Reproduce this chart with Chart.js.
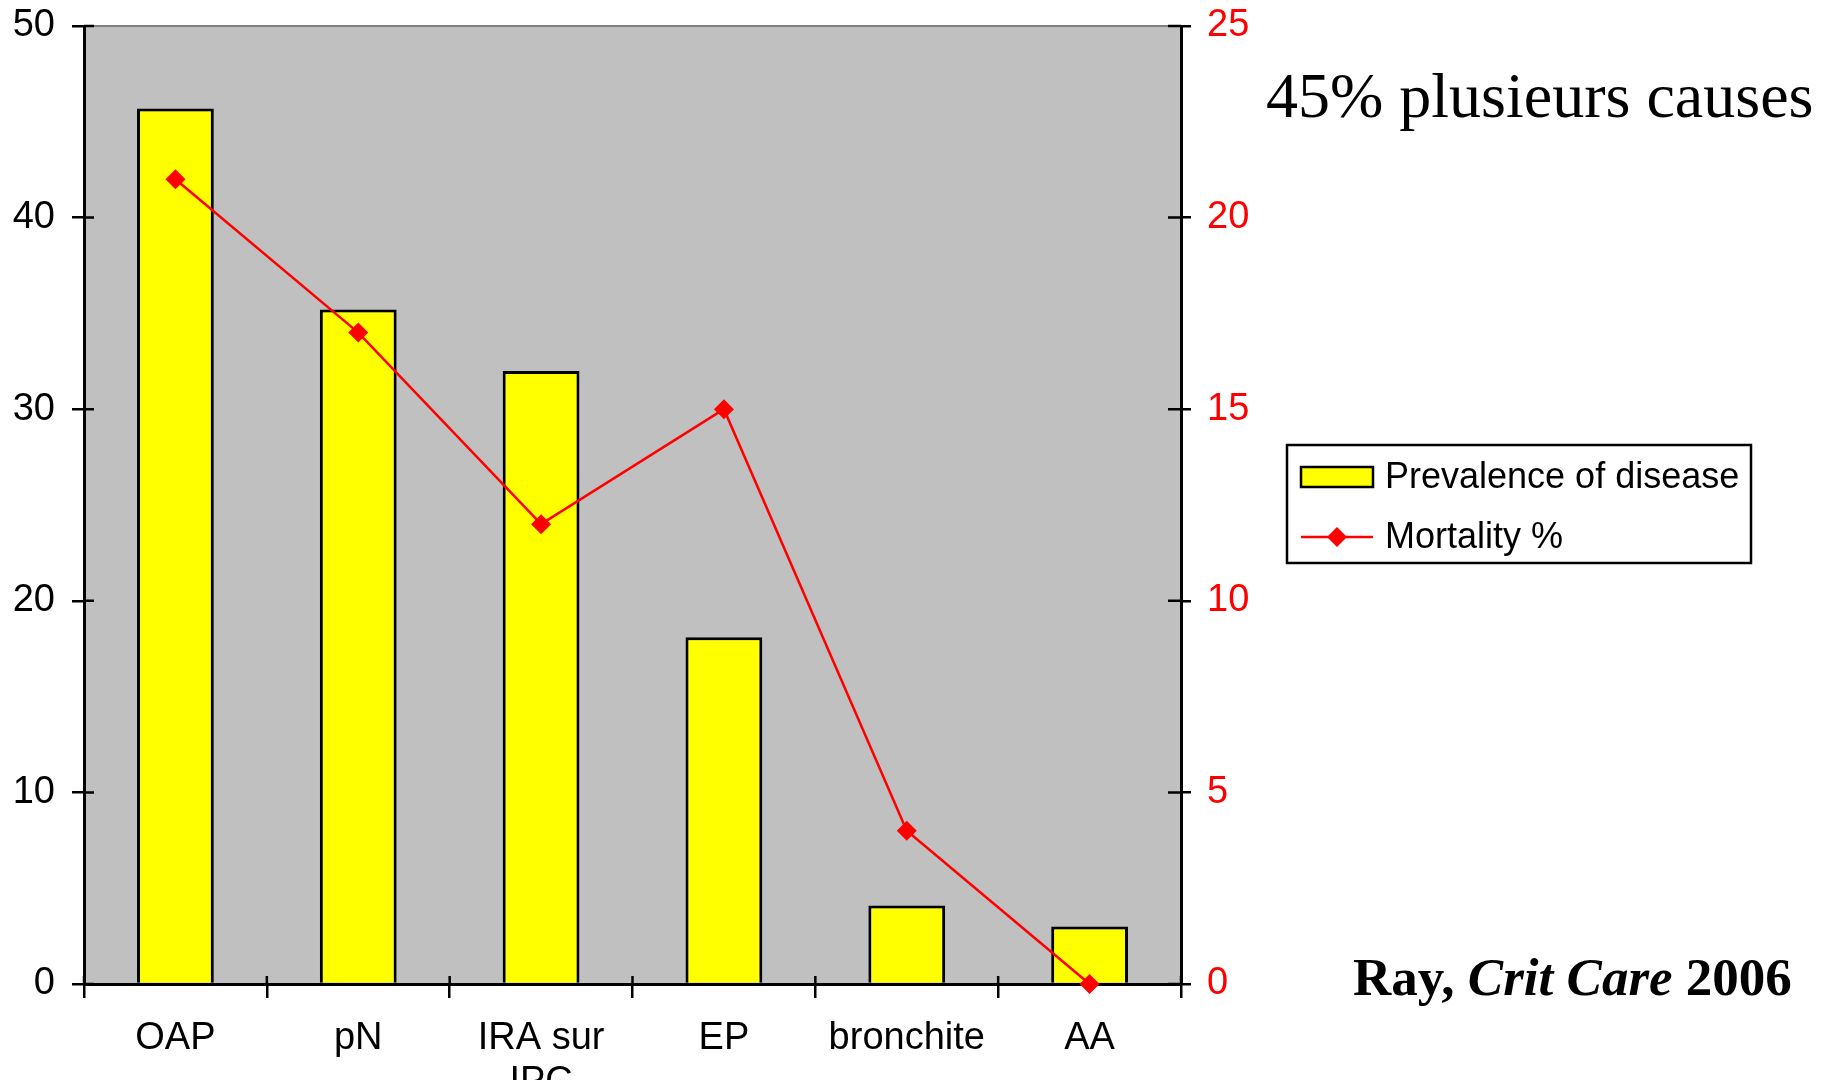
<!DOCTYPE html>
<html>
<head>
<meta charset="utf-8">
<script src="https://cdn.jsdelivr.net/npm/chart.js@4.4.1/dist/chart.umd.min.js"></script>
<style>
  html, body { margin: 0; padding: 0; background: #fff; }
  #wrap { position: relative; width: 1834px; height: 1080px; }
</style>
</head>
<body>
<div id="wrap"><canvas id="chart"></canvas></div>
<script>
// Data
const categories = ['OAP', 'pN', ['IRA sur', 'IPC'], 'EP', 'bronchite', 'AA'];
const prevalence = [45.7, 35.2, 32.0, 18.1, 4.1, 3.0];
const mortality = [21, 17, 12, 15, 4, 0];
const leftTicks = [0, 10, 20, 30, 40, 50];
const rightTicks = [0, 5, 10, 15, 20, 25];
const seriesNames = ['Prevalence of disease', 'Mortality %'];
const noteText = '45% plusieurs causes';
const sourceParts = [['Ray, ', 'normal'], ['Crit Care', 'italic'], [' 2006', 'normal']];

Chart.defaults.font.family = '"Liberation Sans", Arial, sans-serif';
Chart.defaults.font.size = 38;
Chart.defaults.color = '#000';

// Gray plot background + gray top border
const plotBackground = {
    id: 'plotBackground',
    beforeDraw(chart) {
        const {ctx, chartArea: a} = chart;
        ctx.save();
        ctx.fillStyle = '#C0C0C0';
        ctx.fillRect(a.left, a.top, a.right - a.left, a.bottom - a.top);
        ctx.strokeStyle = '#808080';
        ctx.lineWidth = 2;
        ctx.beginPath();
        ctx.moveTo(a.left, a.top);
        ctx.lineTo(a.right, a.top);
        ctx.stroke();
        ctx.restore();
    }
};

// Inner halves of the tick marks (ticks cross the axis lines)
const innerTicks = {
    id: 'innerTicks',
    afterDraw(chart) {
        const {ctx, chartArea: a, scales} = chart;
        ctx.save();
        ctx.strokeStyle = '#000';
        ctx.lineWidth = 2.5;
        ctx.beginPath();
        scales.y.ticks.forEach(t => {
            const py = scales.y.getPixelForValue(t.value);
            ctx.moveTo(a.left, py); ctx.lineTo(a.left + 10, py);
        });
        scales.y2.ticks.forEach(t => {
            const py = scales.y2.getPixelForValue(t.value);
            ctx.moveTo(a.right, py); ctx.lineTo(a.right - 13, py);
        });
        for (let i = 0; i <= categories.length; i++) {
            const px = scales.x.getPixelForValue(i - 0.5);
            ctx.moveTo(px, a.bottom); ctx.lineTo(px, a.bottom - 8);
        }
        ctx.stroke();
        ctx.restore();
    }
};

// Legend box and the two slide notes
const notes = {
    id: 'notes',
    afterDraw(chart) {
        const ctx = chart.ctx;
        const ds = chart.data.datasets;
        ctx.save();
        // legend box
        ctx.fillStyle = '#fff';
        ctx.fillRect(1287, 445, 464, 118);
        ctx.strokeStyle = '#000';
        ctx.lineWidth = 2.5;
        ctx.strokeRect(1287, 445, 464, 118);
        // bar swatch
        ctx.fillStyle = ds[1].backgroundColor;
        ctx.fillRect(1301, 467, 72, 20);
        ctx.strokeRect(1301, 467, 72, 20);
        // line swatch
        ctx.strokeStyle = ds[0].borderColor;
        ctx.beginPath();
        ctx.moveTo(1301, 537); ctx.lineTo(1373, 537);
        ctx.stroke();
        ctx.fillStyle = ds[0].borderColor;
        ctx.beginPath();
        ctx.moveTo(1337 - 10, 537); ctx.lineTo(1337, 527); ctx.lineTo(1337 + 10, 537); ctx.lineTo(1337, 547);
        ctx.closePath(); ctx.fill();
        ctx.fillStyle = '#000';
        ctx.font = '36px "Liberation Sans", Arial, sans-serif';
        ctx.textBaseline = 'middle';
        ctx.fillText(ds[1].label, 1385, 478);
        ctx.fillText(ds[0].label, 1385, 538);

        // notes in serif
        ctx.textBaseline = 'alphabetic';
        ctx.font = '64px "Liberation Serif", "Times New Roman", serif';
        ctx.fillText(noteText, 1266, 117);
        let x = 1353;
        sourceParts.forEach(([txt, style]) => {
            ctx.font = (style === 'italic' ? 'italic ' : '') + 'bold 53px "Liberation Serif", "Times New Roman", serif';
            ctx.fillText(txt, x, 995);
            x += ctx.measureText(txt).width;
        });
        ctx.restore();
    }
};

new Chart(document.getElementById('chart'), {
    type: 'bar',
    data: {
        labels: categories,
        datasets: [
            {
                type: 'line',
                label: seriesNames[1],
                data: mortality,
                yAxisID: 'y2',
                borderColor: '#FF0000',
                backgroundColor: '#FF0000',
                borderWidth: 2.5,
                pointStyle: 'rectRot',
                pointRadius: 10,
                pointBorderWidth: 0,
                tension: 0,
                clip: false,
                order: 1
            },
            {
                type: 'bar',
                label: seriesNames[0],
                data: prevalence,
                yAxisID: 'y',
                backgroundColor: '#FFFF00',
                borderColor: '#000',
                borderWidth: 3,
                categoryPercentage: 1,
                barPercentage: 0.42,
                order: 2
            }
        ]
    },
    options: {
        responsive: true,
        maintainAspectRatio: false,
        animation: false,
        layout: { padding: { top: 26, left: 0, right: 0, bottom: 0 } },
        plugins: { legend: { display: false }, tooltip: { enabled: false } },
        scales: {
            x: {
                grid: { display: true, drawOnChartArea: false, tickLength: 14, color: '#000', lineWidth: 2.5, offset: true },
                border: { color: '#000', width: 3 },
                ticks: { autoSkip: false, maxRotation: 0, minRotation: 0, padding: 19, font: { size: 38, lineHeight: 1.15 } },
                afterFit(scale) { scale.height = 96; }
            },
            y: {
                position: 'left',
                min: 0, max: 50,
                afterBuildTicks(scale) { scale.ticks = leftTicks.map(v => ({ value: v })); },
                grid: { display: true, drawOnChartArea: false, tickLength: 12, color: '#000', lineWidth: 2.5 },
                border: { color: '#000', width: 3 },
                ticks: { padding: 17, color: '#000', font: { size: 38 } },
                afterFit(scale) { scale.width = 84; scale.paddingTop = 0; scale.paddingBottom = 0; }
            },
            y2: {
                position: 'right',
                min: 0, max: 25,
                afterBuildTicks(scale) { scale.ticks = rightTicks.map(v => ({ value: v })); },
                grid: { display: true, drawOnChartArea: false, tickLength: 10, color: '#000', lineWidth: 2.5 },
                border: { color: '#000', width: 3 },
                ticks: { padding: 16, color: '#FF0000', font: { size: 38 } },
                afterFit(scale) { scale.width = 653; scale.paddingTop = 0; scale.paddingBottom = 0; }
            }
        }
    },
    plugins: [plotBackground, innerTicks, notes]
});
</script>
</body>
</html>
